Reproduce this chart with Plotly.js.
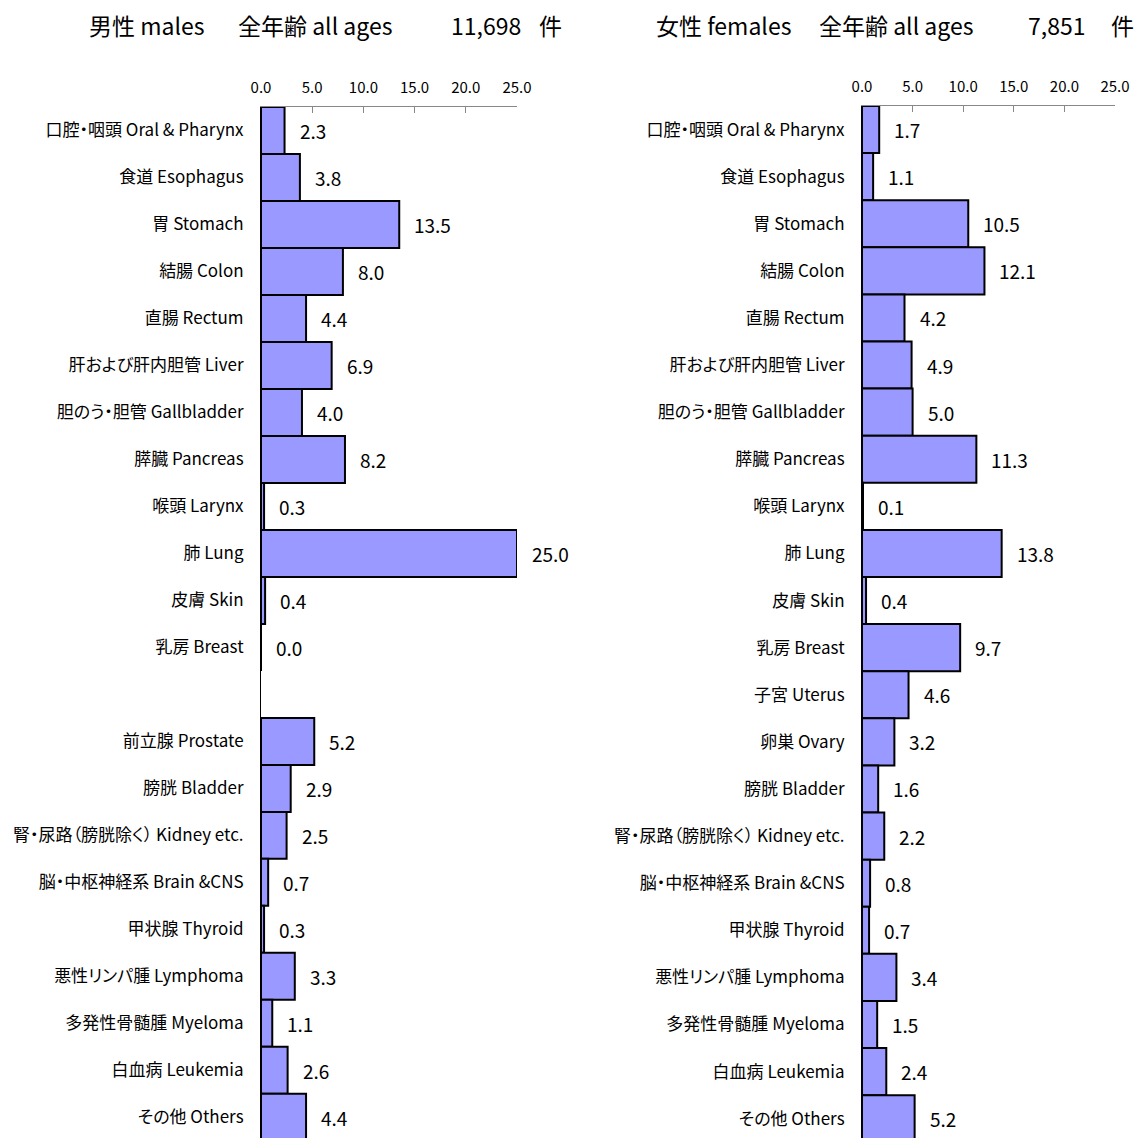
<!DOCTYPE html>
<html>
<head>
<meta charset="utf-8">
<script src="https://cdn.plot.ly/plotly-3.0.1.min.js"></script>
<style>
html,body{margin:0;padding:0;background:#fff;}
#chart{width:1135px;height:1138px;}
#chart .ytick text, #chart .y2tick text { font-feature-settings: "palt" 1; }
</style>
</head>
<body>
<div id="chart"></div>
<script>
const catM = ["口腔・咽頭 Oral & Pharynx","食道 Esophagus","胃 Stomach","結腸 Colon","直腸 Rectum","肝および肝内胆管 Liver","胆のう・胆管 Gallbladder","膵臓 Pancreas","喉頭 Larynx","肺 Lung","皮膚 Skin","乳房 Breast"," ","前立腺 Prostate","膀胱 Bladder","腎・尿路（膀胱除く） Kidney etc.","脳・中枢神経系 Brain &CNS","甲状腺 Thyroid","悪性リンパ腫 Lymphoma","多発性骨髄腫 Myeloma","白血病 Leukemia","その他 Others"];
const valM = [2.3,3.8,13.5,8.0,4.4,6.9,4.0,8.2,0.3,25.0,0.4,0.0,null,5.2,2.9,2.5,0.7,0.3,3.3,1.1,2.6,4.4];
const catF = ["口腔・咽頭 Oral & Pharynx","食道 Esophagus","胃 Stomach","結腸 Colon","直腸 Rectum","肝および肝内胆管 Liver","胆のう・胆管 Gallbladder","膵臓 Pancreas","喉頭 Larynx","肺 Lung","皮膚 Skin","乳房 Breast","子宮 Uterus","卵巣 Ovary","膀胱 Bladder","腎・尿路（膀胱除く） Kidney etc.","脳・中枢神経系 Brain &CNS","甲状腺 Thyroid","悪性リンパ腫 Lymphoma","多発性骨髄腫 Myeloma","白血病 Leukemia","その他 Others"];
const valF = [1.7,1.1,10.5,12.1,4.2,4.9,5.0,11.3,0.1,13.8,0.4,9.7,4.6,3.2,1.6,2.2,0.8,0.7,3.4,1.5,2.4,5.2];
const totalM = "11,698";
const totalF = "7,851";
const tickVals = [0,5,10,15,20,25];

const FONT = '"Noto Sans CJK JP", "Noto Sans", sans-serif';
const barColor = '#9999FF';

const traces = [
  {type:'bar', orientation:'h', x:valM, y:catM, xaxis:'x', yaxis:'y', width:1,
   marker:{color:barColor, line:{color:'#000', width:2}}, hoverinfo:'none'},
  {type:'bar', orientation:'h', x:valF, y:catF, xaxis:'x2', yaxis:'y2', width:1,
   marker:{color:barColor, line:{color:'#000', width:2}}, hoverinfo:'none'}
];

const annotations = [];
function addLabels(vals, cats, xr, yr){
  vals.forEach((v,i)=>{
    if (v === null) return;
    annotations.push({x:v, y:cats[i], xref:xr, yref:yr, text:v.toFixed(1), showarrow:false,
      xanchor:'left', yanchor:'middle', xshift:13, font:{family:FONT, size:19, color:'#000'}});
  });
}
addLabels(valM, catM, 'x', 'y');
addLabels(valF, catF, 'x2', 'y2');

const tfont = {family:FONT, size:23, color:'#000'};
function title(text, px, anchor){
  annotations.push({x:px/1135, y:1-25/1138, xref:'paper', yref:'paper', text:text, showarrow:false,
    xanchor:anchor, yanchor:'middle', font:tfont});
}
title('男性 males', 87, 'left');
title('全年齢 all ages', 236, 'left');
title(totalM, 523, 'right');
title('件', 537, 'left');
title('女性 females', 654, 'left');
title('全年齢 all ages', 817, 'left');
title(totalF, 1087, 'right');
title('件', 1109, 'left');

const xcommon = {range:[0,25], side:'top', tickvals:tickVals, ticktext:tickVals.map(v=>v.toFixed(1)),
  ticks:'inside', ticklen:6, tickcolor:'#888', showline:true, linecolor:'#888', linewidth:1,
  showgrid:false, zeroline:false, fixedrange:true, ticklabelstandoff:7,
  tickfont:{family:FONT, size:15, color:'#000'}};
const ycommon = {type:'category', showgrid:false, zeroline:false, showline:true, linecolor:'#000', linewidth:1,
  ticks:'', ticklabelstandoff:13, fixedrange:true, tickfont:{family:FONT, size:17, color:'#000'}};

const layout = {
  width:1135, height:1138, margin:{l:0, r:0, t:0, b:0},
  paper_bgcolor:'#fff', plot_bgcolor:'#fff', showlegend:false, bargap:0,
  xaxis: Object.assign({}, xcommon, {domain:[261/1135, 517/1135], anchor:'y'}),
  yaxis: Object.assign({}, ycommon, {domain:[0, 1-107/1138], range:[21.44,-0.5], anchor:'x', categoryorder:'array', categoryarray:catM}),
  xaxis2: Object.assign({}, xcommon, {domain:[862/1135, 1115/1135], anchor:'y2'}),
  yaxis2: Object.assign({}, ycommon, {domain:[0, 1-106/1138], range:[21.41,-0.5], anchor:'x2', categoryorder:'array', categoryarray:catF}),
  annotations: annotations
};

Plotly.newPlot('chart', traces, layout, {staticPlot:true, displayModeBar:false});
</script>
</body>
</html>
